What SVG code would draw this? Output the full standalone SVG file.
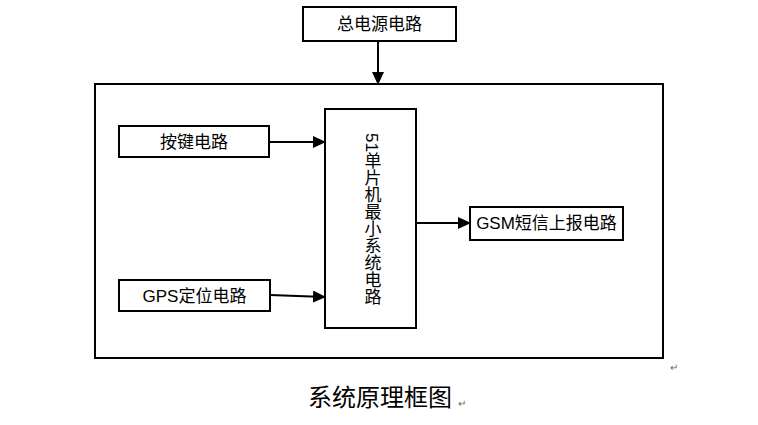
<svg xmlns="http://www.w3.org/2000/svg" width="758" height="425" viewBox="0 0 758 425">
<style>
.b{fill:#fff;stroke:#000;stroke-width:2}
.t{font-family:"Liberation Sans","Noto Sans CJK SC",sans-serif;font-size:17px;fill:#000;text-anchor:middle}
.c{stroke:#000;stroke-width:2;fill:none;marker-end:url(#a)}
</style>
<defs><marker id="a" markerWidth="13" markerHeight="12" refX="12" refY="6" orient="auto" markerUnits="userSpaceOnUse"><path d="M0,0 L13,6 L0,12 Z" fill="#000"/></marker></defs>
<rect width="758" height="425" fill="#fff"/>
<g id="frame"><rect x="95" y="84" width="568" height="274" fill="none" stroke="#000" stroke-width="2"/></g>
<g id="power"><rect class="b" x="303" y="7" width="153" height="34"/><text class="t" x="379.5" y="30">总电源电路</text></g>
<g id="keys"><rect class="b" x="119" y="126" width="150" height="31"/><text class="t" x="194" y="148">按键电路</text></g>
<g id="gps"><rect class="b" x="119" y="280" width="151" height="31"/><text class="t" x="194.5" y="302">GPS定位电路</text></g>
<g id="mcu"><rect class="b" x="325" y="109" width="91" height="219"/><text class="t" x="371" y="133" style="writing-mode:vertical-rl;text-anchor:start;font-size:17px">51单片机最小系统电路</text></g>
<g id="gsm"><rect class="b" x="470" y="207" width="153" height="33"/><text class="t" x="546.5" y="229">GSM短信上报电路</text></g>
<g id="connectors">
<path class="c" d="M378,41 V84"/>
<path class="c" d="M269,142 H325"/>
<path class="c" d="M270,295 L325,297"/>
<path class="c" d="M416,223 H470"/>
</g>
<text x="380" y="406" style="font-family:'Liberation Serif','Noto Sans CJK SC',serif;font-size:24px;text-anchor:middle">系统原理框图</text>
<text x="458" y="407" style="font-family:'Liberation Sans',sans-serif;font-size:10px;fill:#666">↵</text>
<text x="670" y="371" style="font-family:'Liberation Sans',sans-serif;font-size:10px;fill:#666">↵</text>
</svg>
